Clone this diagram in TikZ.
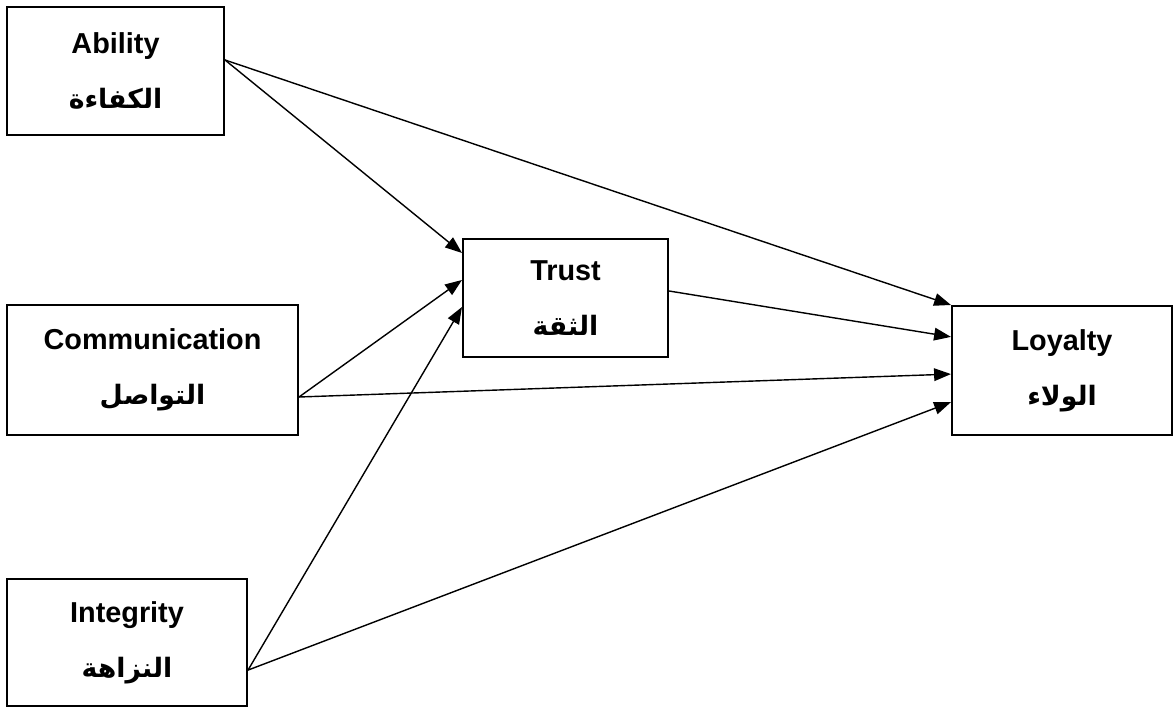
\documentclass[tikz,border=0pt]{standalone}
\usepackage{fontspec}
\setmainfont{Liberation Sans}
\newfontfamily\arabicfont[Script=Arabic]{DejaVu Sans}
\TeXXeTstate=1
\usetikzlibrary{arrows.meta,positioning,calc}
\newcommand{\arab}[1]{{\arabicfont\fontsize{19}{39}\selectfont\beginR #1\endR}}

\begin{document}
\begin{tikzpicture}[x=0.025cm, y=0.025cm,
    factor/.style={rectangle, draw, line width=1.4pt, align=center, inner sep=0pt,
        font=\bfseries\fontsize{20.5}{39}\selectfont},
    arrow/.style={-{Triangle[length=12pt,width=9pt]}, line width=1pt}
]
    \useasboundingbox (0,0) rectangle (1173,709);

    \node[factor, minimum width=5.425cm, minimum height=3.2cm] (ability) at (115.5,638) {Ability\\\arab{الكفاءة}};
    \node[factor, minimum width=7.275cm, minimum height=3.25cm] (comm) at (152.5,339) {Communication\\\arab{التواصل}};
    \node[factor, minimum width=6cm, minimum height=3.175cm] (integrity) at (127,66.5) {Integrity\\\arab{النزاهة}};
    \node[factor, minimum width=5.125cm, minimum height=2.95cm] (trust) at (565.5,411) {Trust\\\arab{الثقة}};
    \node[factor, minimum width=5.5cm, minimum height=3.225cm] (loyalty) at (1062,338.5) {Loyalty\\\arab{الولاء}};

    \draw[arrow] ([yshift=0.275cm]ability.east) -- ([yshift=1.125cm]trust.west);
    \draw[arrow] ([yshift=0.275cm]ability.east) -- (loyalty.north west);
    \draw[arrow] ([yshift=-0.675cm]comm.east) -- ([yshift=0.45cm]trust.west);
    \draw[arrow] ([yshift=-0.675cm]comm.east) -- ([yshift=-0.09cm]loyalty.west);
    \draw[arrow] ([yshift=-0.69cm]integrity.east) -- ([yshift=-0.225cm]trust.west);
    \draw[arrow] ([yshift=-0.69cm]integrity.east) -- ([yshift=-0.79cm]loyalty.west);
    \draw[arrow] ([yshift=0.175cm]trust.east) -- ([yshift=0.84cm]loyalty.west);
\end{tikzpicture}
\end{document}
